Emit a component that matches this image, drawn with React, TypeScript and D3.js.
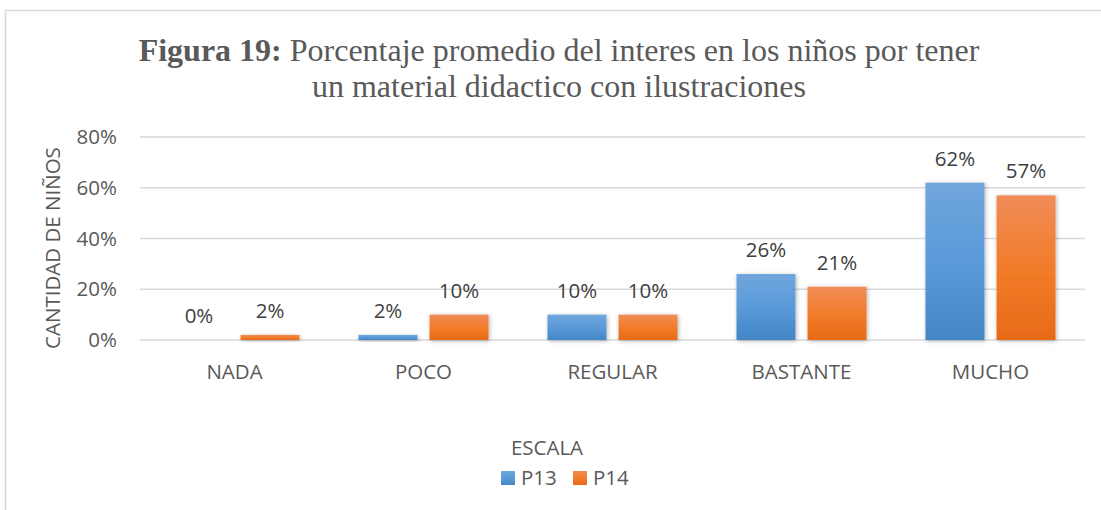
import React from "react";
import * as d3 from "d3";

const categories = ["NADA", "POCO", "REGULAR", "BASTANTE", "MUCHO"];
const seriesNames = ["P13", "P14"];
const p13 = [0, 2, 10, 26, 62];
const p14 = [2, 10, 10, 21, 57];
const yTicks = [0, 20, 40, 60, 80];

const W = 1101;
const H = 510;
const FONT = "'Open Sans', 'Liberation Sans', sans-serif";
const TXT = "#595959";
const FS = 20.5;

export default function App() {
  const x = d3.scaleBand<string>().domain(categories).range([140, 1085]).paddingInner(0).paddingOuter(0);
  const y = d3.scaleLinear().domain([0, 80]).range([340, 137]);
  const inner = d3.scaleBand<string>().domain(seriesNames).range([0, x.bandwidth()]).paddingInner(0.17).paddingOuter(0.415);
  const series = [p13, p14];
  const gradIds = ["gBlue", "gOrange"];

  return (
    <div style={{ position: "fixed", left: 0, top: 0, width: W, height: H, background: "#fff" }}>
      <svg width={W} height={H} style={{ display: "block" }}>
        <defs>
          <linearGradient id="gBlue" x1="0" y1="0" x2="0" y2="1">
            <stop offset="0" stopColor="#70a6dc" />
            <stop offset="0.5" stopColor="#5a9ad9" />
            <stop offset="1" stopColor="#4386c6" />
          </linearGradient>
          <linearGradient id="gOrange" x1="0" y1="0" x2="0" y2="1">
            <stop offset="0" stopColor="#f08c59" />
            <stop offset="0.5" stopColor="#f27c2a" />
            <stop offset="1" stopColor="#e76a18" />
          </linearGradient>
          <filter id="shadow" x="-20%" y="-20%" width="140%" height="140%">
            <feDropShadow dx="1" dy="1" stdDeviation="2" floodColor="#000" floodOpacity="0.3" />
          </filter>
        </defs>
        <rect x={5.5} y={10.5} width={1200} height={600} fill="#fff" stroke="#d9d9d9" strokeWidth={1.5} />

        <text x={559} y={61} textAnchor="middle" fontFamily="'Liberation Serif', 'Times New Roman', serif" fontSize={32} fill={TXT}>
          <tspan fontWeight="bold">Figura 19:</tspan>
          <tspan> Porcentaje promedio del interes en los niños por tener</tspan>
        </text>
        <text x={559} y={97} textAnchor="middle" fontFamily="'Liberation Serif', 'Times New Roman', serif" fontSize={32} fill={TXT}>
          un material didactico con ilustraciones
        </text>

        {yTicks.map((t) => (
          <g key={t}>
            <line x1={140} x2={1085} y1={y(t)} y2={y(t)} stroke="#d9d9d9" strokeWidth={1.5} />
            <text x={117} y={y(t)} dy="0.35em" textAnchor="end" fontFamily={FONT} fontSize={FS} fill={TXT}>
              {t}%
            </text>
          </g>
        ))}

        <text transform={`translate(60,${248}) rotate(-90)`} textAnchor="middle" fontFamily={FONT} fontSize={FS} fill={TXT}>
          CANTIDAD DE NIÑOS
        </text>

        {categories.map((c, i) => (
          <g key={c}>
            {series.map((s, j) => {
              const bx = (x(c) as number) + (inner(seriesNames[j]) as number);
              const bw = inner.bandwidth();
              const v = s[i];
              return (
                <g key={j}>
                  {v > 0 && (
                    <rect x={bx} y={y(v)} width={bw} height={y(0) - y(v)} fill={`url(#${gradIds[j]})`} filter="url(#shadow)" />
                  )}
                  <text x={bx + bw / 2} y={y(v) - 17} textAnchor="middle" fontFamily={FONT} fontSize={FS} fill="#404040">
                    {v}%
                  </text>
                </g>
              );
            })}
            <text x={(x(c) as number) + x.bandwidth() / 2} y={372} dy="0.35em" textAnchor="middle" fontFamily={FONT} fontSize={FS} fill={TXT}>
              {c}
            </text>
          </g>
        ))}

        <text x={547} y={448} dy="0.35em" textAnchor="middle" fontFamily={FONT} fontSize={FS} fill={TXT}>
          ESCALA
        </text>
        {seriesNames.map((n, j) => {
          const lx = 501 + j * 72;
          return (
            <g key={n}>
              <rect x={lx} y={471} width={14} height={14} fill={`url(#${gradIds[j]})`} />
              <text x={lx + 20} y={478} dy="0.35em" fontFamily={FONT} fontSize={FS} fill={TXT}>
                {n}
              </text>
            </g>
          );
        })}
      </svg>
    </div>
  );
}
